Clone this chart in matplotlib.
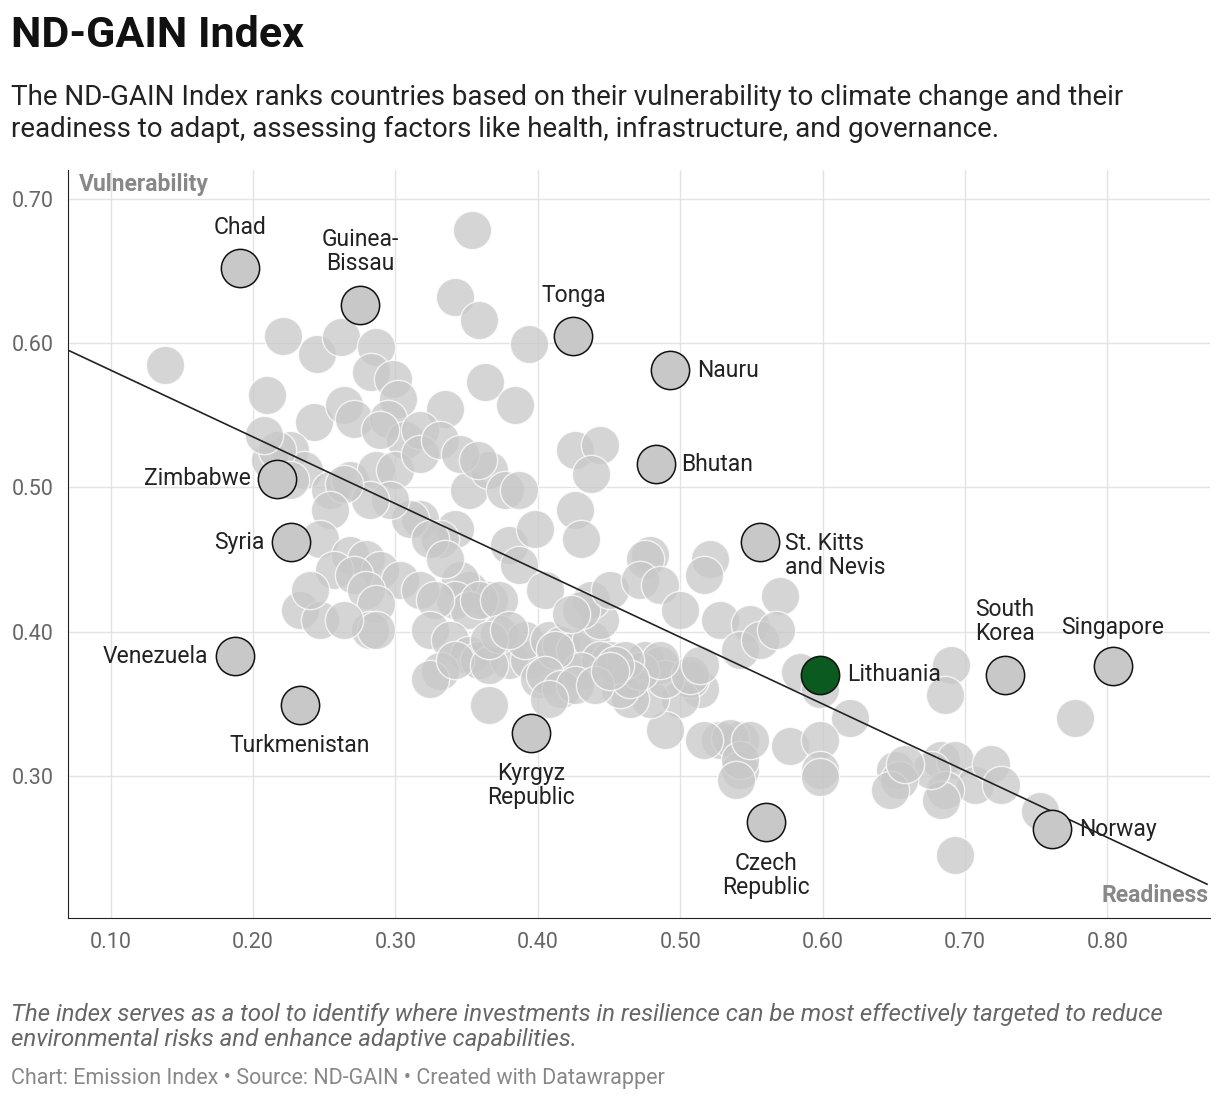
import matplotlib
matplotlib.use('Agg')
import matplotlib.pyplot as plt

plt.rcParams.update({"font.family": ["Roboto", "DejaVu Sans"]})

# background countries: (readiness, vulnerability)
bg_x = [0.138, 0.354, 0.342, 0.359, 0.221, 0.245, 0.262, 0.286, 0.283, 0.210, 0.243, 0.264, 0.271, 0.298,
        0.363, 0.384, 0.394, 0.335, 0.302, 0.295, 0.307, 0.317, 0.289, 0.226, 0.212, 0.236, 0.254, 0.268,
        0.286, 0.300, 0.317, 0.331, 0.352, 0.366, 0.377, 0.387, 0.345, 0.358, 0.426, 0.444, 0.437, 0.426,
        0.430, 0.380, 0.398, 0.387, 0.405, 0.366, 0.352, 0.342, 0.317, 0.331, 0.310, 0.296, 0.282, 0.264,
        0.254, 0.247, 0.268, 0.279, 0.289, 0.303, 0.324, 0.345, 0.342, 0.352, 0.359, 0.373, 0.317, 0.328,
        0.335, 0.257, 0.271, 0.279, 0.286, 0.233, 0.247, 0.282, 0.324, 0.338, 0.352, 0.359, 0.380, 0.394,
        0.331, 0.324, 0.342, 0.366, 0.373, 0.391, 0.401, 0.408, 0.416, 0.426, 0.437, 0.444, 0.451, 0.437,
        0.430, 0.423, 0.451, 0.479, 0.475, 0.472, 0.486, 0.500, 0.521, 0.517, 0.528, 0.549, 0.542, 0.556,
        0.570, 0.567, 0.584, 0.598, 0.619, 0.577, 0.598, 0.598, 0.598, 0.542, 0.528, 0.535, 0.542, 0.542,
        0.539, 0.549, 0.517, 0.514, 0.507, 0.500, 0.489, 0.479, 0.465, 0.458, 0.475, 0.486, 0.489, 0.507,
        0.514, 0.472, 0.486, 0.444, 0.430, 0.412, 0.405, 0.416, 0.426, 0.408, 0.461, 0.465, 0.454, 0.440,
        0.451, 0.366, 0.366, 0.380, 0.690, 0.686, 0.683, 0.693, 0.707, 0.686, 0.683, 0.676, 0.651, 0.654,
        0.647, 0.658, 0.718, 0.725, 0.753, 0.777, 0.693, 0.286, 0.264, 0.240, 0.217, 0.226, 0.208]
bg_y = [0.585, 0.678, 0.632, 0.616, 0.605, 0.592, 0.604, 0.597, 0.580, 0.564, 0.545, 0.557, 0.547, 0.575,
        0.573, 0.557, 0.599, 0.554, 0.561, 0.547, 0.533, 0.540, 0.540, 0.526, 0.519, 0.512, 0.498, 0.505,
        0.512, 0.512, 0.523, 0.533, 0.498, 0.512, 0.498, 0.498, 0.523, 0.519, 0.526, 0.529, 0.509, 0.484,
        0.464, 0.460, 0.471, 0.446, 0.429, 0.422, 0.429, 0.471, 0.478, 0.464, 0.478, 0.491, 0.491, 0.502,
        0.484, 0.464, 0.453, 0.450, 0.443, 0.436, 0.464, 0.436, 0.422, 0.415, 0.422, 0.422, 0.429, 0.422,
        0.450, 0.443, 0.439, 0.429, 0.419, 0.415, 0.408, 0.401, 0.401, 0.394, 0.384, 0.380, 0.380, 0.380,
        0.373, 0.367, 0.380, 0.377, 0.398, 0.394, 0.367, 0.394, 0.391, 0.387, 0.394, 0.408, 0.380, 0.422,
        0.415, 0.412, 0.429, 0.453, 0.450, 0.436, 0.432, 0.415, 0.450, 0.439, 0.408, 0.405, 0.387, 0.394,
        0.425, 0.401, 0.372, 0.360, 0.340, 0.321, 0.325, 0.304, 0.299, 0.325, 0.325, 0.326, 0.304, 0.311,
        0.297, 0.325, 0.325, 0.360, 0.367, 0.353, 0.332, 0.353, 0.353, 0.360, 0.380, 0.377, 0.367, 0.370,
        0.377, 0.373, 0.380, 0.380, 0.373, 0.387, 0.370, 0.360, 0.363, 0.353, 0.380, 0.367, 0.377, 0.363,
        0.373, 0.349, 0.394, 0.401, 0.377, 0.356, 0.311, 0.311, 0.294, 0.290, 0.283, 0.304, 0.304, 0.297,
        0.290, 0.308, 0.308, 0.294, 0.276, 0.340, 0.245, 0.401, 0.408, 0.429, 0.526, 0.505, 0.536]

# highlighted countries
names = ["Chad", "Guinea-\nBissau", "Tonga", "Nauru", "Bhutan", "Zimbabwe", "Syria", "St. Kitts\nand Nevis",
         "Venezuela", "Turkmenistan", "Kyrgyz\nRepublic", "Czech\nRepublic", "South\nKorea", "Singapore",
         "Norway", "Lithuania"]
hl_x = [0.191, 0.275, 0.425, 0.493, 0.483, 0.217, 0.227, 0.556, 0.187, 0.233, 0.395, 0.560, 0.728, 0.804,
        0.761, 0.598]
hl_y = [0.652, 0.626, 0.605, 0.581, 0.516, 0.506, 0.462, 0.462, 0.383, 0.349, 0.330, 0.268, 0.370, 0.376,
        0.263, 0.370]

# label placement: offset in pixels, horizontal alignment
label_pos = {
    "Chad": ((0, 40), "center"), "Guinea-\nBissau": ((0, 54), "center"), "Tonga": ((0, 40), "center"),
    "Nauru": ((27, 0), "left"), "Bhutan": ((25, 0), "left"), "Zimbabwe": ((-26, 0), "right"),
    "Syria": ((-27, 0), "right"), "St. Kitts\nand Nevis": ((25, -13), "left"),
    "Venezuela": ((-26, 0), "right"), "Turkmenistan": ((0, -40), "center"),
    "Kyrgyz\nRepublic": ((0, -53), "center"), "Czech\nRepublic": ((0, -53), "center"),
    "South\nKorea": ((0, 53), "center"), "Singapore": ((0, 39), "center"),
    "Norway": ((27, 0), "left"), "Lithuania": ((27, 0), "left"),
}

trend_x = [0.07, 0.87]
trend_y = [0.595, 0.225]

fig = plt.figure(figsize=(12.2, 11.02), dpi=100)
ax = fig.add_axes([0.0557, 0.167, 0.936, 0.679])

ax.scatter(bg_x, bg_y, s=760, color="#c8c8c8", alpha=0.75, edgecolors="white", linewidths=1, zorder=2)
ax.plot(trend_x, trend_y, color="#222222", linewidth=1.2, zorder=3)
for n, x, y in zip(names, hl_x, hl_y):
    fc = "#0b5a1f" if n == "Lithuania" else "#c8c8c8"
    ax.scatter([x], [y], s=760, color=fc, edgecolors="#111111", linewidths=1.1, zorder=4)
    off, ha = label_pos[n]
    ax.annotate(n, (x, y), xytext=off, textcoords="offset pixels", ha=ha, va="center",
                fontsize=16.5, color="#222222", linespacing=1.05, zorder=5)

ax.set_xlim(0.07, 0.872)
ax.set_ylim(0.2016, 0.72)
ax.set_xticks([0.1, 0.2, 0.3, 0.4, 0.5, 0.6, 0.7, 0.8])
ax.set_xticklabels([f"{v:.2f}" for v in ax.get_xticks()])
ax.set_yticks([0.3, 0.4, 0.5, 0.6, 0.7])
ax.set_yticklabels([f"{v:.2f}" for v in ax.get_yticks()])
ax.tick_params(length=0, labelsize=15.5, labelcolor="#666666", pad=10)
ax.tick_params(axis="y", pad=10)
ax.grid(color="#e3e3e3", linewidth=1, zorder=0)
ax.set_axisbelow(True)
for s in ["top", "right"]:
    ax.spines[s].set_visible(False)
ax.spines["left"].set_color("#222222")
ax.spines["bottom"].set_color("#222222")

ax.text(0.01, 0.995, "Vulnerability", transform=ax.transAxes, ha="left", va="top",
        fontsize=16.5, fontweight="bold", color="#888888")
ax.text(0.999, 0.015, "Readiness", transform=ax.transAxes, ha="right", va="bottom",
        fontsize=16.5, fontweight="bold", color="#888888")

fig.text(0.009, 0.968, "ND-GAIN Index", fontsize=31, fontweight="bold", ha="left", va="center", color="#111111")
fig.text(0.009, 0.897, "The ND-GAIN Index ranks countries based on their vulnerability to climate change and their\n"
         "readiness to adapt, assessing factors like health, infrastructure, and governance.",
         fontsize=20, ha="left", va="center", color="#222222", linespacing=1.2)
fig.text(0.009, 0.068, "The index serves as a tool to identify where investments in resilience can be most effectively targeted to reduce\n"
         "environmental risks and enhance adaptive capabilities.",
         fontsize=17.3, style="italic", ha="left", va="center", color="#666666", linespacing=1.15)
fig.text(0.009, 0.021, "Chart: Emission Index \u2022 Source: ND-GAIN \u2022 Created with Datawrapper",
         fontsize=15.5, ha="left", va="center", color="#888888")

fig.savefig("out.png", dpi=100)
